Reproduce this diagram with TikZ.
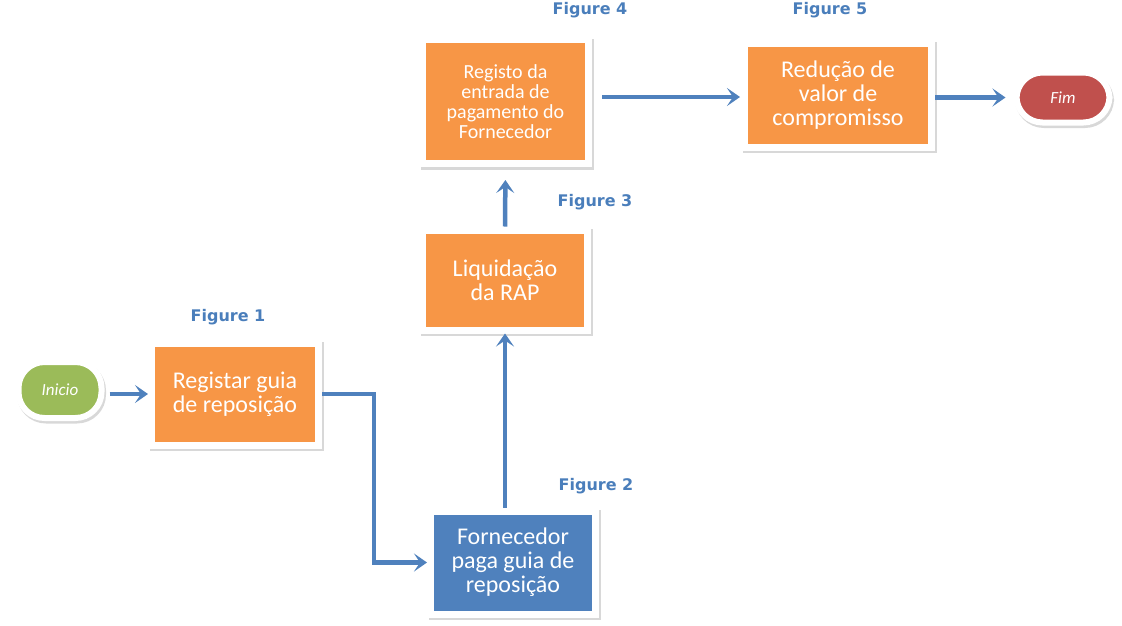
\documentclass[tikz,border=0pt]{standalone}
\usepackage{fontspec}
\setmainfont{Carlito}
\newfontfamily\figfont{DejaVu Sans}
\usetikzlibrary{arrows.meta,shadows,positioning}
\definecolor{laranja}{HTML}{F79646}
\definecolor{azul}{HTML}{4F81BD}
\definecolor{verde}{HTML}{9BBB59}
\definecolor{vermelho}{HTML}{C0504D}
\definecolor{rotulocor}{HTML}{4A7EBB}
\tikzset{
  passo/.style={rectangle, fill=laranja, draw=white, line width=7pt, text=white,
    align=center, font=\fontsize{24}{24}\selectfont,
    drop shadow={shadow xshift=1.5pt, shadow yshift=-2.5pt, fill=black!30, draw=black!30, opacity=0.5}},
  terminal/.style={rectangle, rounded corners=26pt, draw=white, line width=6pt, text=white,
    font=\fontsize{17}{19}\selectfont\itshape,
    drop shadow={shadow xshift=1.5pt, shadow yshift=-2.5pt, fill=black!30, draw=black!30, opacity=0.5}},
  rotulo/.style={text=rotulocor, font=\figfont\bfseries\fontsize{16}{18}\selectfont},
  seta/.style={draw=azul, line width=4.5pt, -{Stealth[length=13pt,width=18pt,inset=6pt]}}
}
\begin{document}
\begin{tikzpicture}[x=1pt, y=-1pt]
  \useasboundingbox (0,0) rectangle (1122,625);
  % vozlisca
  \node [terminal, fill=verde, minimum width=83pt, minimum height=56pt] (inicio) at (60,390) {Inicio};
  \node [passo, minimum width=167pt, minimum height=102pt] (registar) at (235,394) {Registar guia\\de reposição};
  \node [passo, fill=azul, minimum width=165pt, minimum height=103pt] (fornecedor) at (513,562.5) {Fornecedor\\paga guia de\\reposição};
  \node [passo, minimum width=165pt, minimum height=100pt] (liquidacao) at (505,280) {Liquidação\\da RAP};
  \node [passo, minimum width=166pt, minimum height=124pt, font=\fontsize{20}{20}\selectfont] (registo) at (505.5,101.5)
        {Registo da\\entrada de\\pagamento do\\Fornecedor};
  \node [passo, minimum width=187pt, minimum height=104pt] (reducao) at (838,95) {Redução de\\valor de\\compromisso};
  \node [terminal, fill=vermelho, minimum width=93pt, minimum height=50pt] (fim) at (1063,97.5) {Fim};
  % oznake
  \node [rotulo] (fig1) at (228,317) {Figure 1};
  \node [rotulo] (fig2) at (596,486) {Figure 2};
  \node [rotulo] (fig3) at (595,202) {Figure 3};
  \node [rotulo] (fig4) at (590,10) {Figure 4};
  \node [rotulo] (fig5) at (830,10) {Figure 5};
  % puscice
  \draw [seta, shorten <=5pt] (inicio.east |- registar.west) -- (registar.west);
  \draw [seta] (registar.east) -- ++(52,0) |- (fornecedor.west);
  \draw [seta] (fornecedor.north -| liquidacao.south) -- (liquidacao.south);
  \draw [seta, shorten >=13pt] (liquidacao.north) -- (registo.south);
  \draw [seta, shorten <=10pt, shorten >=1pt] (registo.east |- 0,97) -- (reducao.west |- 0,97);
  \draw [seta, shorten >=8pt] (reducao.east |- fim.west) -- (fim.west);
\end{tikzpicture}
\end{document}
